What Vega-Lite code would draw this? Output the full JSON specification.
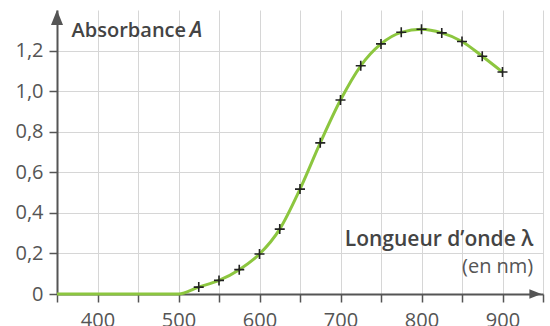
{
  "$schema": "https://vega.github.io/schema/vega-lite/v6.json",
  "width": 486,
  "height": 284,
  "autosize": {"type": "none"},
  "padding": {"left": 57, "top": 10, "right": 7, "bottom": 32},
  "background": "white",
  "config": {
    "view": {"stroke": null},
    "font": "Open Sans"
  },
  "datasets": {
    "curve": [
      {"lambda": 350, "A": 0},
      {"lambda": 400, "A": 0},
      {"lambda": 450, "A": 0},
      {"lambda": 500, "A": 0},
      {"lambda": 525, "A": 0.034},
      {"lambda": 550, "A": 0.067},
      {"lambda": 575, "A": 0.12},
      {"lambda": 600, "A": 0.197},
      {"lambda": 625, "A": 0.32},
      {"lambda": 650, "A": 0.517},
      {"lambda": 675, "A": 0.745},
      {"lambda": 700, "A": 0.956},
      {"lambda": 725, "A": 1.125},
      {"lambda": 750, "A": 1.233},
      {"lambda": 775, "A": 1.29},
      {"lambda": 800, "A": 1.305},
      {"lambda": 825, "A": 1.287},
      {"lambda": 850, "A": 1.245},
      {"lambda": 875, "A": 1.172},
      {"lambda": 900, "A": 1.094}
    ],
    "points": [
      {"lambda": 525, "A": 0.034},
      {"lambda": 550, "A": 0.067},
      {"lambda": 575, "A": 0.12},
      {"lambda": 600, "A": 0.197},
      {"lambda": 625, "A": 0.32},
      {"lambda": 650, "A": 0.517},
      {"lambda": 675, "A": 0.745},
      {"lambda": 700, "A": 0.956},
      {"lambda": 725, "A": 1.125},
      {"lambda": 750, "A": 1.233},
      {"lambda": 775, "A": 1.29},
      {"lambda": 800, "A": 1.305},
      {"lambda": 825, "A": 1.287},
      {"lambda": 850, "A": 1.245},
      {"lambda": 875, "A": 1.172},
      {"lambda": 900, "A": 1.094}
    ]
  },
  "layer": [
    {
      "data": {"name": "curve"},
      "mark": {"type": "line", "color": "#8cc63f", "strokeWidth": 3, "interpolate": "monotone"},
      "encoding": {
        "x": {
          "field": "lambda", "type": "quantitative",
          "scale": {"domain": [350, 950], "nice": false},
          "axis": {
            "title": null,
            "values": [350, 400, 450, 500, 550, 600, 650, 700, 750, 800, 850, 900, 950],
            "labelExpr": "datum.value % 100 == 0 && datum.value >= 400 && datum.value <= 900 ? datum.value : ''",
            "grid": true, "gridColor": "#d6d6d6", "gridWidth": 1,
            "domainColor": "#555555", "domainWidth": 2,
            "tickColor": "#555555", "tickWidth": 1.5, "tickSize": 8,
            "labelFontSize": 20, "labelColor": "#555555", "labelPadding": 8,
            "labelFont": "Open Sans", "labelFlush": false, "labelOverlap": false
          }
        },
        "y": {
          "field": "A", "type": "quantitative",
          "scale": {"domain": [0, 1.4], "nice": false},
          "axis": {
            "title": null,
            "values": [0, 0.2, 0.4, 0.6, 0.8, 1.0, 1.2],
            "labelExpr": "datum.value == 0 ? '0' : replace(format(datum.value, '.1f'), '.', ',')",
            "grid": true, "gridColor": "#d6d6d6", "gridWidth": 1,
            "domainColor": "#555555", "domainWidth": 2,
            "tickColor": "#555555", "tickWidth": 1.5, "tickSize": 8,
            "labelFontSize": 20, "labelColor": "#555555", "labelPadding": 6,
            "labelFont": "Open Sans", "labelFlush": false, "labelOverlap": false
          }
        }
      }
    },
    {
      "data": {"name": "points"},
      "mark": {"type": "point", "shape": "M-1,0L1,0M0,-1L0,1", "size": 100, "filled": false, "stroke": "#222222", "strokeWidth": 1.6, "opacity": 1},
      "encoding": {
        "x": {"field": "lambda", "type": "quantitative"},
        "y": {"field": "A", "type": "quantitative"}
      }
    },
    {
      "data": {"values": [{}]},
      "mark": {"type": "point", "shape": "M0,0L-0.8,2L0.8,2Z", "size": 225, "filled": true, "color": "#555555", "opacity": 1},
      "encoding": {
        "x": {"datum": 350, "type": "quantitative"},
        "y": {"datum": 1.4, "type": "quantitative"}
      }
    },
    {
      "data": {"values": [{}]},
      "mark": {"type": "point", "shape": "M0,0L-2,-0.8L-2,0.8Z", "size": 144, "filled": true, "color": "#555555", "opacity": 1},
      "encoding": {
        "x": {"datum": 948, "type": "quantitative"},
        "y": {"datum": 0, "type": "quantitative"}
      }
    },
    {
      "data": {"values": [{}]},
      "mark": {"type": "text", "text": "Absorbance", "align": "left", "baseline": "alphabetic", "fontSize": 20, "fontWeight": 600, "color": "#444444", "font": "Open Sans"},
      "encoding": {
        "x": {"datum": 368, "type": "quantitative"},
        "y": {"datum": 1.267, "type": "quantitative"}
      }
    },
    {
      "data": {"values": [{}]},
      "mark": {"type": "text", "text": "A", "align": "left", "baseline": "alphabetic", "fontSize": 21, "fontWeight": 600, "fontStyle": "italic", "color": "#444444", "font": "Open Sans"},
      "encoding": {
        "x": {"datum": 514, "type": "quantitative"},
        "y": {"datum": 1.267, "type": "quantitative"}
      }
    },
    {
      "data": {"values": [{}]},
      "mark": {"type": "text", "text": "Longueur d’onde λ", "align": "right", "baseline": "alphabetic", "fontSize": 21, "fontWeight": 600, "color": "#444444", "font": "Open Sans"},
      "encoding": {
        "x": {"datum": 938, "type": "quantitative"},
        "y": {"datum": 0.237, "type": "quantitative"}
      }
    },
    {
      "data": {"values": [{}]},
      "mark": {"type": "text", "text": "(en nm)", "align": "right", "baseline": "alphabetic", "fontSize": 20, "color": "#555555", "font": "Open Sans"},
      "encoding": {
        "x": {"datum": 938, "type": "quantitative"},
        "y": {"datum": 0.104, "type": "quantitative"}
      }
    }
  ]
}
